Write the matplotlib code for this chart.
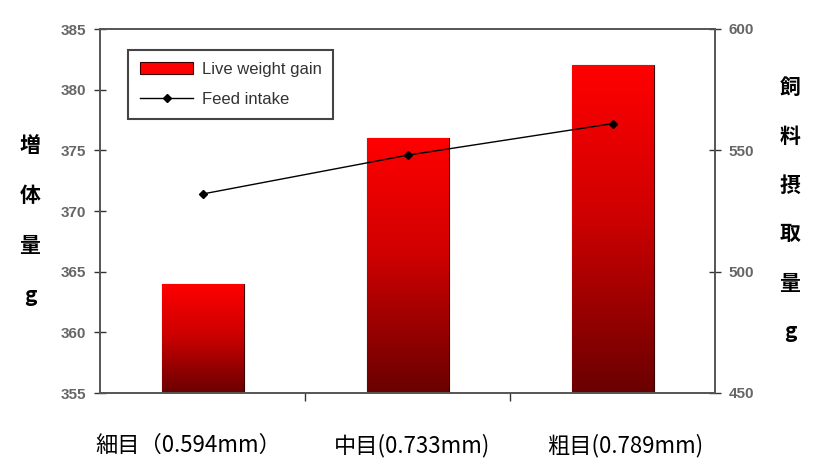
import numpy as np
import matplotlib
matplotlib.use("Agg")
import matplotlib.pyplot as plt
from matplotlib.colors import LinearSegmentedColormap

plt.rcParams['font.family'] = ['Liberation Sans', 'DejaVu Sans']

# Data
categories = ["細目（0.594mm）", "中目(0.733mm)", "粗目(0.789mm)"]
weight_gain = [364, 376, 382]      # left axis (g)
feed_intake = [532, 548, 561]      # right axis (g)
left_ticks = [355, 360, 365, 370, 375, 380, 385]
right_ticks = [450, 500, 550, 600]

fig = plt.figure(figsize=(8.25, 4.62), dpi=100)
ax = fig.add_axes([100 / 825, 1 - 393 / 462, 615 / 825, 364 / 462])
ax2 = ax.twinx()

x = np.arange(len(categories))
bars = ax.bar(x, weight_gain, width=0.4, bottom=0, color="#ff0000",
              edgecolor="#3a0000", linewidth=0.8, zorder=2,
              label="Live weight gain")

# vertical red gradient inside each bar
cmap = LinearSegmentedColormap.from_list(
    "redgrad", [(0.0, "#6a0000"), (0.55, "#d00000"), (1.0, "#ff0000")])
grad = np.linspace(0, 1, 256).reshape(-1, 1)
ax.set_xlim(-0.5, len(categories) - 0.5)
ax.set_ylim(left_ticks[0], left_ticks[-1])
for b in bars:
    x0, w, h = b.get_x(), b.get_width(), b.get_height()
    im = ax.imshow(grad, cmap=cmap, origin="lower", aspect="auto",
                   extent=[x0, x0 + w, left_ticks[0], h], zorder=2.5)
    im.set_clip_path(b)
ax.set_xlim(-0.5, len(categories) - 0.5)
ax.set_ylim(left_ticks[0], left_ticks[-1])

line, = ax2.plot(x, feed_intake, color="black", linewidth=1.0, marker="D",
                 markersize=4.5, label="Feed intake", zorder=3)
ax2.set_ylim(right_ticks[0], right_ticks[-1])

# ticks
ax.set_yticks(left_ticks)
ax2.set_yticks(right_ticks)
ax.set_xticks(x)
ax.set_xticklabels([])
ax.set_xticks(np.arange(0.5, len(categories) - 0.5, 1.0), minor=True)
ax.tick_params(axis="x", which="major", length=0)
ax.tick_params(axis="x", which="minor", direction="out", length=6,
               width=1, color="#333333")
ax.tick_params(axis="y", direction="inout", length=8, width=1,
               color="#333333", labelsize=11, labelcolor="#666666", pad=6)
ax2.tick_params(axis="y", direction="inout", length=8, width=1,
                color="#333333", labelsize=11, labelcolor="#666666", pad=6)
for t in ax.get_yticklabels() + ax2.get_yticklabels():
    t.set_fontweight("bold")
for a in (ax, ax2):
    for s in a.spines.values():
        s.set_color("#555555")
        s.set_linewidth(1.2)

# category labels under the axis
label_offsets = [-0.07, 0.02, 0.06]
for xi, lab, off in zip(x, categories, label_offsets):
    ax.text(xi + off, -0.145, lab, transform=ax.get_xaxis_transform(),
            ha="center", va="center", fontsize=16,
            family=["Noto Sans CJK JP", "DejaVu Sans"])

# stacked vertical axis titles
left_title = ["増", "体", "量", "g"]
for i, ch in enumerate(left_title):
    fig.text(30 / 825, 1 - (145 + 50 * i) / 462, ch, ha="center", va="center",
             fontsize=15, fontweight="bold",
             family=["Noto Sans CJK JP", "DejaVu Sans"])
right_title = ["飼", "料", "摂", "取", "量", "g"]
for i, ch in enumerate(right_title):
    fig.text(790 / 825, 1 - (87 + 49 * i) / 462, ch, ha="center", va="center",
             fontsize=15, fontweight="bold",
             family=["Noto Sans CJK JP", "DejaVu Sans"])

leg = ax2.legend(handles=[bars, line], loc="upper left",
                 bbox_to_anchor=(20 / 615, 1 - 13 / 364), fancybox=False,
                 edgecolor="#444444", framealpha=1, fontsize=12,
                 handlelength=3.2, borderpad=0.7, labelspacing=0.9,
                 handletextpad=0.5)
leg.get_frame().set_linewidth(1.5)
for t in leg.get_texts():
    t.set_color("#333333")

fig.savefig("out.png", dpi=100)
